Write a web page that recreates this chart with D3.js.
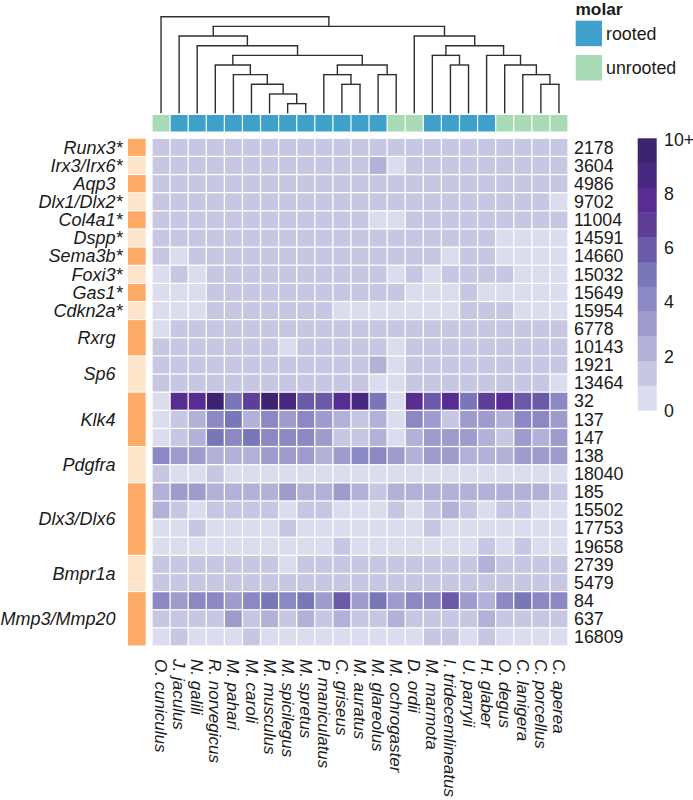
<!DOCTYPE html>
<html>
<head>
<meta charset="utf-8">
<script src="https://cdn.jsdelivr.net/npm/d3@7"></script>
<style>
  html, body { margin: 0; padding: 0; background: #fff; }
  svg { display: block; }
  text { font-family: "Liberation Sans", Arial, Helvetica, sans-serif; fill: #1a1a1a; }
</style>
</head>
<body>
<svg id="chart" width="693" height="800"></svg>
<script>
// ---------------- DATA ----------------
const species = ["O. cuniculus","J. jaculus","N. galili","R. norvegicus","M. pahari","M. caroli",
  "M. musculus","M. spicilegus","M. spretus","P. maniculatus","C. griseus","M. auratus",
  "M. glareolus","M. ochrogaster","D. ordii","M. marmota","I. tridecemlineatus","U. parryii",
  "H. glaber","O. degus","C. lanigera","C. porcellus","C. aperea"];

const molar = ["unrooted","rooted","rooted","rooted","rooted","rooted","rooted","rooted","rooted",
  "rooted","rooted","rooted","rooted","unrooted","unrooted","rooted","rooted","rooted","rooted",
  "unrooted","unrooted","unrooted","unrooted"];

const molarClasses = ["rooted","unrooted"];

const geneNames = ["Runx3*","Irx3/Irx6*","Aqp3","Dlx1/Dlx2*","Col4a1*","Dspp*","Sema3b*","Foxi3*",
  "Gas1*","Cdkn2a*","Rxrg","Sp6","Klk4","Pdgfra","Dlx3/Dlx6","Bmpr1a","Mmp3/Mmp20"];
const geneRowCounts = [1,1,1,1,1,1,1,1,1,1,2,2,3,2,4,2,3];

const rowIds = ["2178","3604","4986","9702","11004","14591","14660","15032","15649","15954",
  "6778","10143","1921","13464","32","137","147","138","18040","185","15502","17753","19658",
  "2739","5479","84","637","16809"];

// values per row (columns follow `species`), capped at 10 ("10+")
const values = [
  [1,1,1,1,1,1,1,1,1,1,1,1,1,1,1,1,1,1,1,1,1,1,1],
  [1,1,1,1,1,1,1,1,1,1,1,1,2,0,1,1,1,1,1,1,1,1,1],
  [1,1,1,1,1,1,1,1,1,1,1,1,1,1,1,1,1,1,1,1,1,1,1],
  [1,1,1,1,1,1,1,1,1,1,1,1,1,1,1,1,1,1,1,1,1,1,0],
  [1,1,1,1,1,1,1,1,1,1,1,1,0,0,1,1,1,1,1,1,1,1,1],
  [1,1,1,1,1,1,1,1,1,1,1,1,1,1,1,1,1,1,1,0,0,0,0],
  [1,0,1,1,1,1,1,1,1,1,1,1,1,1,1,1,0,1,1,0,0,0,0],
  [0,1,0,1,1,1,1,1,1,1,1,1,1,0,1,0,1,1,1,1,0,0,0],
  [0,0,0,1,1,1,1,1,1,1,1,1,1,1,0,0,0,1,0,0,0,0,0],
  [0,0,0,1,1,1,1,1,1,1,0,0,0,0,0,0,0,1,1,1,0,0,0],
  [0,1,1,1,1,1,1,1,1,1,1,1,1,1,1,1,1,1,1,1,1,1,1],
  [1,1,1,1,1,1,1,0,1,1,1,1,1,0,1,1,1,1,1,1,1,1,1],
  [1,1,1,1,1,1,1,1,1,1,1,1,2,0,1,1,1,1,1,1,1,1,1],
  [1,1,1,1,1,1,1,1,1,1,1,1,0,0,1,1,1,1,1,1,1,1,0],
  [0,8,8,10,5,7,10,9,6,6,8,9,5,0,8,6,8,5,7,8,6,6,4],
  [0,1,2,4,5,2,4,3,4,3,2,1,2,0,4,3,1,3,3,2,4,4,3],
  [0,1,2,5,4,5,4,4,4,3,1,1,2,0,2,3,3,3,2,1,3,2,3],
  [4,3,3,2,2,2,3,3,3,2,3,4,4,3,2,3,3,2,2,2,3,3,3],
  [1,0,0,1,0,0,0,0,0,0,0,0,0,0,0,0,0,0,0,0,0,0,0],
  [2,3,3,2,2,2,2,3,2,2,3,2,1,2,2,2,2,2,2,2,2,2,1],
  [2,1,0,1,1,1,1,0,1,1,0,0,0,1,0,1,2,1,0,1,1,0,0],
  [0,0,1,0,0,0,0,1,0,0,0,0,0,0,0,1,0,0,0,0,0,0,0],
  [0,0,0,0,0,0,0,0,0,0,1,0,0,0,0,0,0,0,1,0,1,0,0],
  [1,1,1,1,1,1,1,0,1,1,1,1,1,1,1,1,1,1,2,1,1,1,1],
  [1,1,1,1,1,1,1,1,1,1,1,1,1,1,1,1,1,1,1,1,1,1,1],
  [4,3,4,4,3,4,5,4,5,3,6,3,5,3,4,4,6,3,2,4,5,4,4],
  [1,1,1,1,3,1,2,1,2,1,2,1,1,2,1,1,1,1,2,1,1,1,1],
  [0,1,0,0,0,1,0,0,0,0,0,0,0,0,0,1,1,0,1,0,0,0,0]
];

const legendTickValues = [0,2,4,6,8,10];
const legendTickLabels = ["0","2","4","6","8","10+"];

// dendrogram (merge heights)
const tree = {h:10, c:[
  "O. cuniculus",
  {h:9, c:[
    {h:8, c:["J. jaculus",
      {h:7, c:["N. galili",
        {h:6, c:[
          {h:5, c:["R. norvegicus",
            {h:4, c:["M. pahari",
              {h:3, c:["M. caroli",
                {h:2, c:["M. musculus", {h:1, c:["M. spicilegus","M. spretus"]}]}]}]}]},
          {h:5, c:[
            {h:4, c:["P. maniculatus", {h:3, c:["C. griseus","M. auratus"]}]},
            {h:4, c:["M. glareolus","M. ochrogaster"]}]}
        ]}]}]},
    {h:8, c:["D. ordii",
      {h:7, c:[
        {h:6, c:["M. marmota", {h:5, c:["I. tridecemlineatus","U. parryii"]}]},
        {h:6, c:["H. glaber",
          {h:5, c:["O. degus",
            {h:4, c:["C. lanigera", {h:3, c:["C. porcellus","C. aperea"]}]}]}]}
      ]}]}
  ]}
]};

// ---------------- STYLE / LAYOUT ----------------
const palette = ["#dcdcef","#c8c7e3","#b3b1d8","#9f9bcd","#8c88c3","#7a77b9",
                 "#6b5aa8","#5e3f98","#572d91","#47287e","#3d2470"];
const molarColors = ["#3fa0cb","#a8dbb5"];
const geneColors = ["#fdab67","#fde5cc"];

const svg = d3.select("#chart");
const FS_LEFT = 18, FS_RIGHT = 17.8, FS_BOTTOM = 17, FS_LEG = 17.8;

const x = d3.scaleBand().domain(species).range([152, 568]);
const y = d3.scaleBand().domain(rowIds).range([138.3, 646]);
const color = d3.scaleQuantize().domain([0, 11]).range(palette);
const molarColor = d3.scaleOrdinal().domain(molarClasses).range(molarColors);
const hY = d3.scaleLinear().domain([0, 10]).range([113.3, 16.7]);

// ---------------- DENDROGRAM ----------------
const gD = svg.append("g").attr("stroke", "#2e2e2e").attr("stroke-width", 1.4).attr("fill", "none");
function layout(node) {
  if (typeof node === "string") return {x: x(node) + x.bandwidth() / 2, h: 0};
  const kids = node.c.map(layout);
  const nx = (kids[0].x + kids[1].x) / 2;
  gD.append("line").attr("x1", kids[0].x).attr("x2", kids[1].x)
    .attr("y1", hY(node.h)).attr("y2", hY(node.h)).attr("stroke-linecap", "square");
  kids.forEach(k => {
    gD.append("line").attr("x1", k.x).attr("x2", k.x)
      .attr("y1", hY(node.h)).attr("y2", hY(k.h));
  });
  return {x: nx, h: node.h};
}
layout(tree);

// ---------------- COLUMN ANNOTATION ----------------
svg.append("g").selectAll("rect").data(species).join("rect")
  .attr("x", d => x(d) + 0.6).attr("width", x.bandwidth() - 1.2)
  .attr("y", 115).attr("height", 16.5)
  .attr("fill", (d, i) => molarColor(molar[i]));

// ---------------- HEATMAP ----------------
const cells = [];
values.forEach((row, r) => row.forEach((v, c) => cells.push({r: rowIds[r], c: species[c], v})));
svg.append("g").selectAll("rect").data(cells).join("rect")
  .attr("x", d => x(d.c) + 0.65).attr("width", x.bandwidth() - 1.3)
  .attr("y", d => y(d.r) + 0.65).attr("height", y.bandwidth() - 1.3)
  .attr("fill", d => color(Math.min(d.v, 10)));

// ---------------- ROW ANNOTATION + GENE LABELS ----------------
let start = 0;
const groups = geneNames.map((g, i) => {
  const rows = rowIds.slice(start, start + geneRowCounts[i]);
  start += geneRowCounts[i];
  return {name: g, first: rows[0], last: rows[rows.length - 1], i};
});
const gR = svg.append("g");
groups.forEach(g => {
  const y0 = y(g.first) + 0.5, y1 = y(g.last) + y.bandwidth() - 0.5;
  gR.append("rect").attr("x", 128).attr("width", 17.7)
    .attr("y", y0).attr("height", y1 - y0)
    .attr("fill", geneColors[g.i % 2]);
  const cy = (y0 + y1) / 2;
  const star = g.name.endsWith("*");
  const base = star ? g.name.slice(0, -1) : g.name;
  gR.append("text").attr("x", 115.5).attr("y", cy).attr("dy", "0.35em")
    .attr("text-anchor", "end").attr("font-style", "italic").attr("font-size", FS_LEFT)
    .text(base);
  if (star) {
    gR.append("text").attr("x", 115.5).attr("y", cy).attr("dy", "0.35em")
      .attr("text-anchor", "start").attr("font-style", "italic").attr("font-size", FS_LEFT)
      .text("*");
  }
});

// ---------------- ROW IDS (right) ----------------
svg.append("g").selectAll("text").data(rowIds).join("text")
  .attr("x", 574).attr("y", d => y(d) + y.bandwidth() / 2).attr("dy", "0.35em")
  .attr("font-size", FS_RIGHT).text(d => d);

// ---------------- SPECIES LABELS (bottom) ----------------
svg.append("g").selectAll("text").data(species).join("text")
  .attr("transform", d => `translate(${x(d) + x.bandwidth() / 2},659) rotate(90)`)
  .attr("dy", "0.35em").attr("font-style", "italic").attr("font-size", FS_BOTTOM)
  .text(d => d);

// ---------------- MOLAR LEGEND ----------------
const gL = svg.append("g");
gL.append("text").attr("x", 575.5).attr("y", 14.5).attr("font-weight", "bold")
  .attr("font-size", 17.3).text("molar");
molarClasses.forEach((m, i) => {
  const top = 20.7 + i * 34.3;
  gL.append("rect").attr("x", 575.7).attr("y", top).attr("width", 26.3).attr("height", 25.5)
    .attr("fill", molarColor(m));
  gL.append("text").attr("x", 606).attr("y", top + 12.7).attr("dy", "0.35em")
    .attr("font-size", FS_LEG).text(m);
});

// ---------------- COLOR BAR ----------------
const barTop = 138.3, barBot = 410.3, barX = 637.7, barW = 19;
const bandH = (barBot - barTop) / palette.length;
const gC = svg.append("g");
gC.selectAll("rect").data(palette).join("rect")
  .attr("x", barX).attr("width", barW)
  .attr("y", (d, i) => barBot - (i + 1) * bandH).attr("height", bandH + 0.3)
  .attr("fill", d => d);
const cbScale = d3.scaleLinear().domain([0, 10]).range([410.6, 139.3]);
const cbAxis = d3.axisRight(cbScale).tickValues(legendTickValues)
  .tickFormat((d, i) => legendTickLabels[i]).tickSize(0).tickPadding(0);
const axG = gC.append("g").attr("transform", `translate(664,0)`).call(cbAxis);
axG.select(".domain").remove();
axG.selectAll("text").attr("font-size", FS_LEG).attr("fill", "#1a1a1a")
  .attr("font-family", "Liberation Sans, Arial, sans-serif");
</script>
</body>
</html>
